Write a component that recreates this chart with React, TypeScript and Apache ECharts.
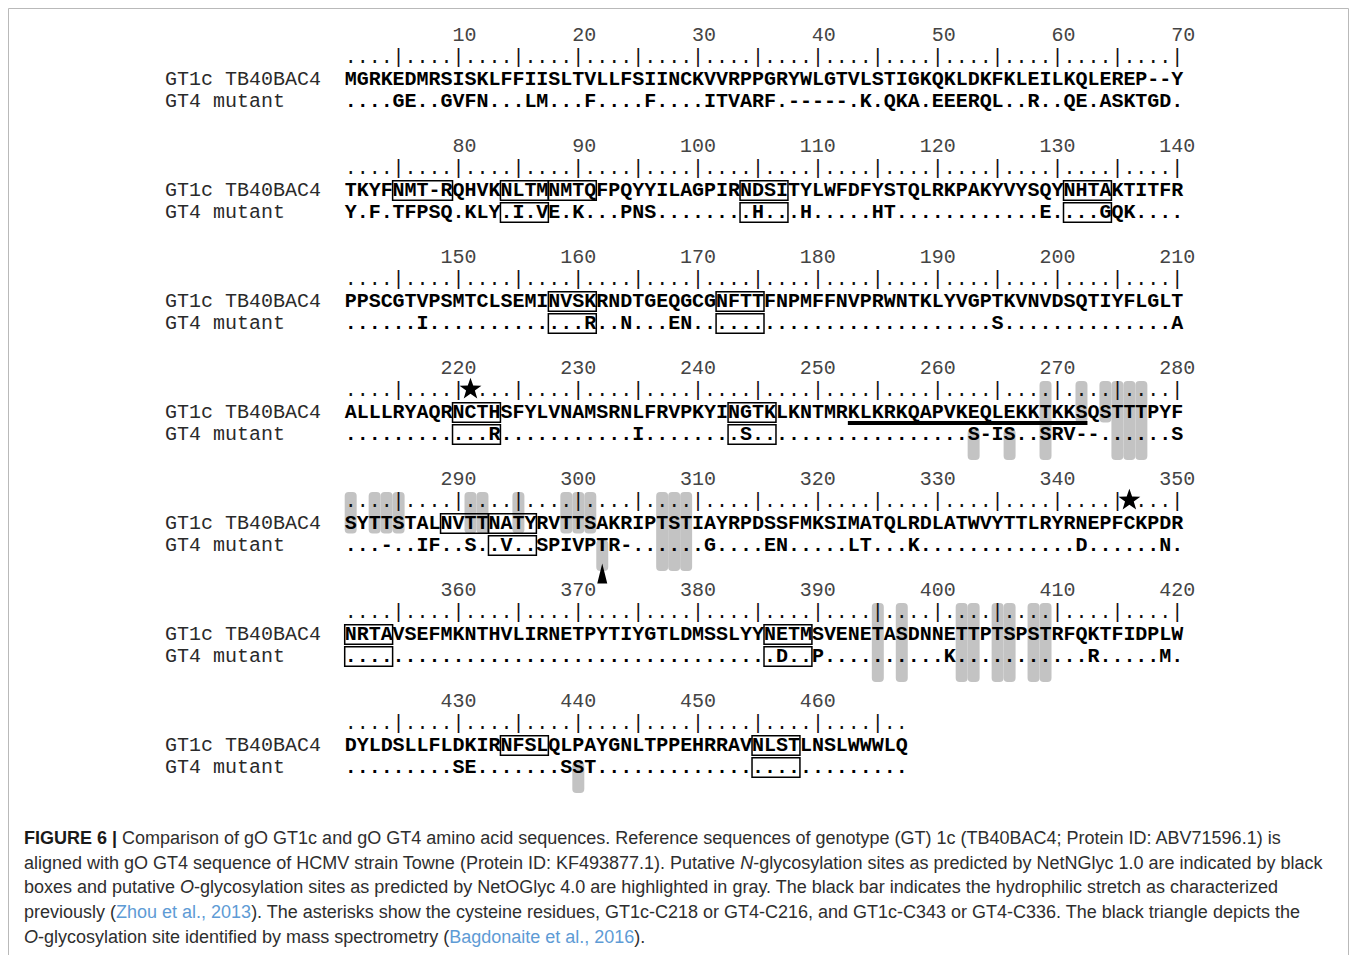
import React, { useEffect, useRef } from "react";
import * as echarts from "echarts";

// ---------------- data ----------------
const seqNames = ["GT1c TB40BAC4", "GT4 mutant"];

const gt1cBlocks = [
  ["MGRKEDMRSI", "SKLFFIISLT", "VLLFSIINCK", "VVRPPGRYWL", "GTVLSTIGKQ", "KLDKFKLEIL", "KQLEREP--Y"].join(""),
  ["TKYFNMT-RQ", "HVKNLTMNMT", "QFPQYYILAG", "PIRNDSITYL", "WFDFYSTQLR", "KPAKYVYSQY", "NHTAKTITFR"].join(""),
  ["PPSCGTVPSM", "TCLSEMINVS", "KRNDTGEQGC", "GNFTTFNPMF", "FNVPRWNTKL", "YVGPTKVNVD", "SQTIYFLGLT"].join(""),
  ["ALLLRYAQRN", "CTHSFYLVNA", "MSRNLFRVPK", "YINGTKLKNT", "MRKLKRKQAP", "VKEQLEKKTK", "KSQSTTTPYF"].join(""),
  ["SYTTSTALNV", "TTNATYRVTT", "SAKRIPTSTI", "AYRPDSSFMK", "SIMATQLRDL", "ATWVYTTLRY", "RNEPFCKPDR"].join(""),
  ["NRTAVSEFMK", "NTHVLIRNET", "PYTIYGTLDM", "SSLYYNETMS", "VENETASDNN", "ETTPTSPSTR", "FQKTFIDPLW"].join(""),
  ["DYLDSLLFLD", "KIRNFSLQLP", "AYGNLTPPEH", "RRAVNLSTLN", "SLWWWLQ"].join(""),
];

const gt4Blocks = [
  ["....GE..GV", "FN...LM...", "F....F....", "ITVARF.---", "--.K.QKA.E", "EERQL..R..", "QE.ASKTGD."].join(""),
  ["Y.F.TFPSQ.", "KLY.I.VE.K", "...PNS....", "....H...H.", "....HT....", "........E.", "...GQK...."].join(""),
  ["......I...", "..........", "R..N...EN.", "..........", "..........", "....S.....", ".........A"].join(""),
  ["..........", "..R.......", "....I.....", "...S......", "..........", "..S-IS..SR", "V--......S"].join(""),
  ["...-..IF..", "S..V..SPIV", "PTR-......", "G....EN...", "..LT...K..", "..........", ".D......N."].join(""),
  ["..........", "..........", "..........", "......D..P", "..........", "K.........", "..R.....M."].join(""),
  [".........S", "E.......SS", "T.........", "..........", "......."].join(""),
];

const positionTicks = [
  10, 20, 30, 40, 50, 60, 70, 80, 90, 100, 110, 120, 130, 140, 150, 160, 170, 180, 190, 200,
  210, 220, 230, 240, 250, 260, 270, 280, 290, 300, 310, 320, 330, 340, 350, 360, 370, 380,
  390, 400, 410, 420, 430, 440, 450, 460,
];

// N-glycosylation boxes: [alignment start, length]
const nGlycGT1c = [
  [75, 5], [84, 4], [88, 4], [104, 4], [131, 4], [158, 4], [172, 4], [220, 4], [243, 4],
  [289, 4], [293, 4], [351, 4], [386, 4], [434, 4], [455, 4],
];
const nGlycGT4 = [
  [84, 4], [104, 4], [131, 4], [158, 4], [172, 4], [220, 4], [243, 4], [293, 4], [351, 4],
  [386, 4], [455, 4],
];

// O-glycosylation sites (alignment positions)
const oGlycGT1cOnly = [272, 274, 281, 283, 284, 285, 291, 292, 295, 299, 300, 301];
const oGlycGT4Only = [263, 266, 302, 440];
const oGlycBoth = [269, 275, 276, 277, 307, 308, 309, 395, 397, 402, 403, 405, 406, 408, 409];

const cysteineStars = [221, 346];
const msSite = [302];
const hydrophilicStretch = [253, 272];

const captionLines = [
  "{b|FIGURE 6 |} Comparison of gO GT1c and gO GT4 amino acid sequences. Reference sequences of genotype (GT) 1c (TB40BAC4; Protein ID: ABV71596.1) is",
  "aligned with gO GT4 sequence of HCMV strain Towne (Protein ID: KF493877.1). Putative {i|N}-glycosylation sites as predicted by NetNGlyc 1.0 are indicated by black",
  "boxes and putative {i|O}-glycosylation sites as predicted by NetOGlyc 4.0 are highlighted in gray. The black bar indicates the hydrophilic stretch as characterized",
  "previously ({l|Zhou et al., 2013}). The asterisks show the cysteine residues, GT1c-C218 or GT4-C216, and GT1c-C343 or GT4-C336. The black triangle depicts the",
  "{i|O}-glycosylation site identified by mass spectrometry ({l|Bagdonaite et al., 2016}).",
];

// ---------------- layout helpers ----------------
const BLOCK = 70;
const COL_PX = 11.98;
const LINE_PX = 22.2;
const GRID_LEFT = 165;
const FIRST_LINE_Y = 35;
const MONO = '"Liberation Mono", "DejaVu Sans Mono", monospace';
const SANS = '"Liberation Sans", Arial, sans-serif';

function cellOf(g: number) {
  const b = Math.floor((g - 1) / BLOCK);
  const p = g - BLOCK * b;
  return { x0: 14 + p, L: 5 * b };
}

type Glyph = { x: number; y: number; t: string };

function textSeries(items: Glyph[], font: string, fill: string, align: string, z: number) {
  return {
    type: "custom",
    coordinateSystem: "cartesian2d",
    silent: true,
    clip: false,
    z,
    data: items.map((d) => [d.x, d.y]),
    renderItem: (params: any, api: any) => {
      const pt = api.coord([api.value(0), api.value(1)]);
      return {
        type: "text",
        x: pt[0],
        y: pt[1],
        style: {
          text: items[params.dataIndex].t,
          font,
          fill,
          align,
          verticalAlign: "middle",
        },
      };
    },
  };
}

function buildOption() {
  const seqGlyphs: Glyph[] = [];
  const rulerGlyphs: Glyph[] = [];
  const nameGlyphs: Glyph[] = [];
  const numGlyphs: Glyph[] = [];

  gt1cBlocks.forEach((s, b) => {
    const L = 5 * b;
    nameGlyphs.push({ x: 0, y: L + 2, t: seqNames[0] });
    nameGlyphs.push({ x: 0, y: L + 3, t: seqNames[1] });
    const s2 = gt4Blocks[b];
    for (let i = 0; i < s.length; i++) {
      const x = 15.5 + i;
      const g = BLOCK * b + i + 1;
      seqGlyphs.push({ x, y: L + 2, t: s[i] });
      seqGlyphs.push({ x, y: L + 3, t: s2[i] });
      if (!cysteineStars.includes(g)) {
        rulerGlyphs.push({ x, y: L + 1, t: g % 5 === 0 ? "|" : "." });
      }
    }
  });
  positionTicks.forEach((n) => {
    const { x0, L } = cellOf(n);
    numGlyphs.push({ x: x0 + 2, y: L, t: String(n) });
  });

  // gray O-glyc data: [x0, L, part]  part 0=top,1=bottom,2=both
  const grayData: number[][] = [];
  oGlycGT1cOnly.forEach((g) => { const c = cellOf(g); grayData.push([c.x0, c.L, 0]); });
  oGlycGT4Only.forEach((g) => { const c = cellOf(g); grayData.push([c.x0, c.L, 1]); });
  oGlycBoth.forEach((g) => { const c = cellOf(g); grayData.push([c.x0, c.L, 2]); });

  const boxData: number[][] = [];
  nGlycGT1c.forEach(([s, len]) => { const c = cellOf(s); boxData.push([c.x0, c.L + 2, len]); });
  nGlycGT4.forEach(([s, len]) => { const c = cellOf(s); boxData.push([c.x0, c.L + 3, len]); });

  const starData = cysteineStars.map((g) => { const c = cellOf(g); return [c.x0 + 0.5, c.L + 1]; });
  const triData = msSite.map((g) => { const c = cellOf(g); return [c.x0 + 0.5, c.L + 4]; });
  const hs = cellOf(hydrophilicStretch[0]);
  const he = cellOf(hydrophilicStretch[1]);
  const barData = [[hs.x0, hs.L + 2, he.x0 + 1]];

  // caption font size fitted to the longest line
  let capSize = 16.5;
  try {
    const ctx = document.createElement("canvas").getContext("2d");
    if (ctx) {
      ctx.font = '100px "Liberation Sans"';
      const plain = captionLines[1].replace(/\{[a-z]\|([^}]*)\}/g, "$1");
      const w = ctx.measureText(plain).width;
      if (w > 0) capSize = Math.max(14, Math.min(18, (100 * 1305) / w));
    }
  } catch (e) {}

  const capY = [838, 862.5, 887, 912, 936.5];
  const caption = captionLines.map((line, i) => ({
    type: "text",
    x: 24,
    y: capY[i],
    silent: true,
    style: {
      text: line,
      fontFamily: SANS,
      fontSize: capSize,
      fill: "#2e2e2e",
      verticalAlign: "middle",
      align: "left",
      rich: {
        b: { fontFamily: SANS, fontSize: capSize, fontWeight: "bold", fill: "#1a1a1a" },
        i: { fontFamily: SANS, fontSize: capSize, fontStyle: "italic", fill: "#2e2e2e" },
        l: { fontFamily: SANS, fontSize: capSize, fill: "#5e9bd5" },
      },
    },
  }));

  return {
    animation: false,
    backgroundColor: "#ffffff",
    grid: {
      left: GRID_LEFT,
      top: FIRST_LINE_Y - LINE_PX,
      width: 85 * COL_PX,
      height: 36 * LINE_PX,
      containLabel: false,
    },
    xAxis: { type: "value", min: 0, max: 85, show: false },
    yAxis: { type: "value", min: -1, max: 35, inverse: true, show: false },
    graphic: [
      {
        type: "rect",
        silent: true,
        shape: { x: 8.5, y: 8.5, width: 1340, height: 960 },
        style: { fill: "none", stroke: "#b9b9b9", lineWidth: 1 },
      },
      ...caption,
    ],
    series: [
      {
        type: "custom",
        coordinateSystem: "cartesian2d",
        silent: true,
        clip: false,
        z: 1,
        data: grayData,
        renderItem: (params: any, api: any) => {
          const x0 = api.value(0);
          const L = api.value(1);
          const part = api.value(2);
          const top = part === 1 ? L + 3 - 0.25 : L + 1 - 0.42;
          const bottom = part === 0 ? L + 2 + 0.46 : L + 4 + 0.14;
          const a = api.coord([x0 + 0.0, top]);
          const c = api.coord([x0 + 1.0, bottom]);
          return {
            type: "rect",
            shape: { x: a[0], y: a[1], width: c[0] - a[0], height: c[1] - a[1], r: 4 },
            style: { fill: "#c3c3c3" },
          };
        },
      },
      textSeries(nameGlyphs, `20px ${MONO}`, "#2a2a2a", "left", 3),
      textSeries(numGlyphs, `20px ${MONO}`, "#444444", "right", 3),
      textSeries(rulerGlyphs, `20px ${MONO}`, "#111111", "center", 3),
      textSeries(seqGlyphs, `bold 20px ${MONO}`, "#000000", "center", 3),
      {
        type: "custom",
        coordinateSystem: "cartesian2d",
        silent: true,
        clip: false,
        z: 4,
        data: boxData,
        renderItem: (params: any, api: any) => {
          const x0 = api.value(0);
          const L = api.value(1);
          const len = api.value(2);
          const a = api.coord([x0, L - 0.44]);
          const c = api.coord([x0 + len, L + 0.44]);
          return {
            type: "rect",
            shape: { x: a[0], y: a[1], width: c[0] - a[0], height: c[1] - a[1] },
            style: { fill: "none", stroke: "#000000", lineWidth: 1.5 },
          };
        },
      },
      {
        type: "custom",
        coordinateSystem: "cartesian2d",
        silent: true,
        clip: false,
        z: 5,
        data: barData,
        renderItem: (params: any, api: any) => {
          const a = api.coord([api.value(0), api.value(1) + 0.48]);
          const c = api.coord([api.value(2), api.value(1) + 0.48]);
          return {
            type: "rect",
            shape: { x: a[0], y: a[1] - 2, width: c[0] - a[0], height: 4 },
            style: { fill: "#000000" },
          };
        },
      },
      {
        type: "custom",
        coordinateSystem: "cartesian2d",
        silent: true,
        clip: false,
        z: 5,
        data: starData,
        renderItem: (params: any, api: any) => {
          const c = api.coord([api.value(0), api.value(1)]);
          const pts: number[][] = [];
          for (let k = 0; k < 10; k++) {
            const ang = -Math.PI / 2 + (k * Math.PI) / 5;
            const r = k % 2 === 0 ? 11.5 : 4.6;
            pts.push([c[0] + r * Math.cos(ang), c[1] - 1 + r * Math.sin(ang)]);
          }
          return { type: "polygon", shape: { points: pts }, style: { fill: "#000000" } };
        },
      },
      {
        type: "custom",
        coordinateSystem: "cartesian2d",
        silent: true,
        clip: false,
        z: 5,
        data: triData,
        renderItem: (params: any, api: any) => {
          const c = api.coord([api.value(0), api.value(1) + 0.3]);
          return {
            type: "polygon",
            shape: {
              points: [
                [c[0], c[1] - 11],
                [c[0] + 5, c[1] + 9],
                [c[0] - 5, c[1] + 9],
              ],
            },
            style: { fill: "#000000" },
          };
        },
      },
    ],
  };
}

export default function App() {
  const ref = useRef<HTMLDivElement>(null);
  useEffect(() => {
    if (!ref.current) return;
    const chart = echarts.init(ref.current, null, { renderer: "svg" });
    chart.setOption(buildOption() as any);
    return () => chart.dispose();
  }, []);
  return (
    <div
      ref={ref}
      style={{ position: "fixed", left: 0, top: 0, width: 1357, height: 955, background: "#fff" }}
    />
  );
}
